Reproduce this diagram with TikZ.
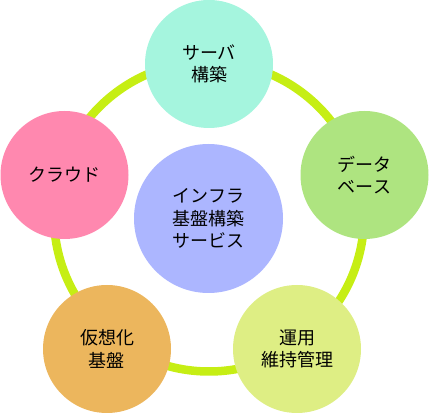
\documentclass[tikz,border=0pt]{standalone}
\usepackage{fontspec}
\newfontfamily\jpfont{Noto Sans CJK JP}
\usepackage{tikz}
\usetikzlibrary{positioning}
\usepackage{color}
\definecolor{limering}{RGB}{198, 238, 20}
\definecolor{lavender}{RGB}{172, 182, 255}
\definecolor{mint}{RGB}{165, 245, 222}
\definecolor{leafgreen}{RGB}{174, 228, 128}
\definecolor{paleyellow}{RGB}{222, 238, 132}
\definecolor{apricot}{RGB}{236, 182, 93}
\definecolor{rosepink}{RGB}{255, 136, 175}
\tikzset{
    bubble/.style={circle, fill=#1, minimum size=128pt, inner sep=0pt,
                   align=center, font=\jpfont\fontsize{18}{22.5}\selectfont},
}

\begin{document}
\begin{tikzpicture}[x=1pt, y=-1pt]
            % Frame to fix the margins
            \useasboundingbox                                 (  0.0,   0.0) rectangle (429.0, 414.0);
            % Ring
            \coordinate (ringc)                            at (209.0, 216.5);
            \draw[limering, line width=8.5pt] (ringc) circle (155pt);
            % Hub
            \node[bubble=lavender, minimum size=149pt] (hub) at (208.5, 218.5) {インフラ\\基盤構築\\サービス};
            % Outer circles
            \node[bubble=mint]       (server)   at (209.0,  64.0) {サーバ\\構築};
            \node[bubble=leafgreen]  (database) at (364.5, 175.0) {データ\\ベース};
            \node[bubble=paleyellow] (ops)      at (297.0, 349.0) {運用\\維持管理};
            \node[bubble=apricot]    (virt)     at (107.0, 349.0) {仮想化\\基盤};
            \node[bubble=rosepink]   (cloud)    at ( 64.5, 175.0) {クラウド};
\end{tikzpicture}
\end{document}
